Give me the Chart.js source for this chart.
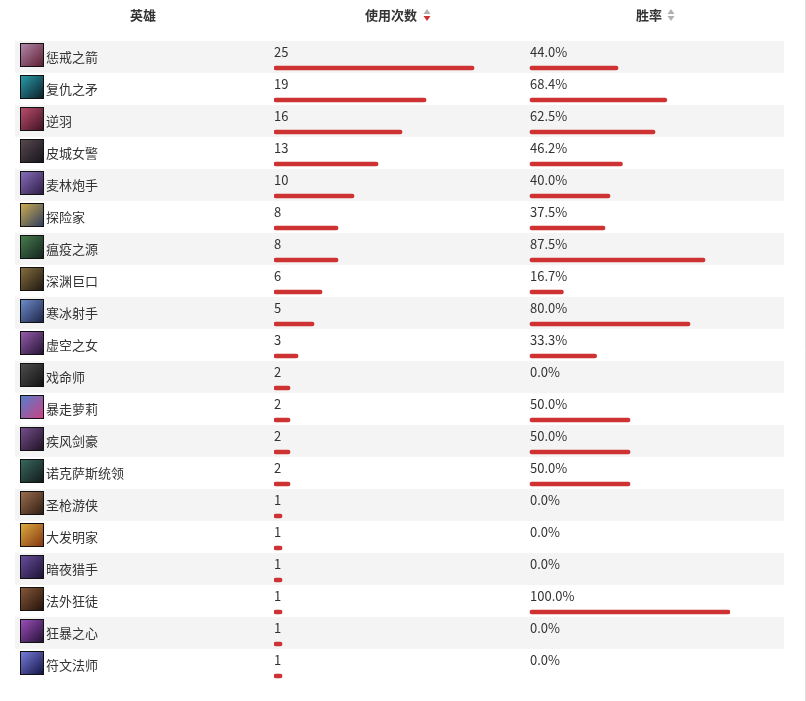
<!DOCTYPE html>
<html>
<head>
<meta charset="utf-8">
<script src="https://cdn.jsdelivr.net/npm/chart.js@4.4.1/dist/chart.umd.min.js"></script>
<style>
  html, body { margin: 0; padding: 0; background: #fff; }
  #wrap { position: relative; width: 806px; height: 701px; }
</style>
</head>
<body>
<div id="wrap"><canvas id="heroChart"></canvas></div>
<script>
// hero names, usage counts and win rates (%)
const heroes = ['惩戒之箭', '复仇之矛', '逆羽', '皮城女警', '麦林炮手', '探险家', '瘟疫之源', '深渊巨口', '寒冰射手', '虚空之女',
    '戏命师', '暴走萝莉', '疾风剑豪', '诺克萨斯统领', '圣枪游侠', '大发明家', '暗夜猎手', '法外狂徒', '狂暴之心', '符文法师'];
const usage = [25, 19, 16, 13, 10, 8, 8, 6, 5, 3, 2, 2, 2, 2, 1, 1, 1, 1, 1, 1];
const winRate = [44.0, 68.4, 62.5, 46.2, 40.0, 37.5, 87.5, 16.7, 80.0, 33.3, 0.0, 50.0, 50.0, 50.0, 0.0, 0.0, 0.0, 100.0, 0.0, 0.0];
const headers = ['英雄', '使用次数', '胜率'];

// rough portrait tints, just to stand in for the champion icons
const iconColors = [
    ['#b58bb0', '#5a1a2a'], ['#2aa0b0', '#0b1a22'], ['#c05070', '#3a1020'], ['#5a4a50', '#15121a'],
    ['#8a70c0', '#2a1a40'], ['#d0b050', '#2a3a60'], ['#4a8050', '#10201a'], ['#8a7040', '#1a1510'],
    ['#7090d0', '#1a2040'], ['#9a60b0', '#201030'], ['#505050', '#101010'], ['#5080d0', '#d04080'],
    ['#7a5090', '#1a1020'], ['#3a6a60', '#101818'], ['#a07050', '#2a1a10'], ['#e0b040', '#803010'],
    ['#6a50a0', '#1a1030'], ['#8a5a3a', '#201008'], ['#a050c0', '#201030'], ['#7a80e0', '#101040']
];

const RED = '#cf3232';
const TEXT = '#333';
const FONT = '"Noto Sans CJK SC", "Noto Sans", sans-serif';
const ROW_H = 32;
const BAR_OFFSET = 27; // bar centre measured from the top of its row

// zero values get no visible bar
const barColor = c => (c.raw === 0 ? 'rgba(0,0,0,0)' : RED);

function drawSortArrows(ctx, x, y, downActive) {
    ctx.fillStyle = '#b0b0b0';
    ctx.beginPath();
    ctx.moveTo(x - 3.5, y - 1);
    ctx.lineTo(x + 3.5, y - 1);
    ctx.lineTo(x, y - 6);
    ctx.fill();
    ctx.fillStyle = downActive ? RED : '#b0b0b0';
    ctx.beginPath();
    ctx.moveTo(x - 3.5, y + 1);
    ctx.lineTo(x + 3.5, y + 1);
    ctx.lineTo(x, y + 6);
    ctx.fill();
}

const tablePlugin = {
    id: 'tablePlugin',
    beforeDatasetsDraw(chart) {
        const ctx = chart.ctx;
        const y = chart.scales.y;
        ctx.save();
        heroes.forEach((h, i) => {
            if (i % 2 === 0) {
                const top = y.getPixelForValue(i) - BAR_OFFSET;
                ctx.fillStyle = '#f4f4f4';
                ctx.fillRect(15, top, 769, ROW_H);
            }
        });
        ctx.restore();
    },
    afterDraw(chart) {
        const ctx = chart.ctx;
        const y = chart.scales.y;
        const xu = chart.scales.xu;
        const xw = chart.scales.xw;
        ctx.save();

        // header
        ctx.font = 'bold 13px ' + FONT;
        ctx.fillStyle = TEXT;
        ctx.textAlign = 'center';
        ctx.textBaseline = 'middle';
        ctx.fillText(headers[0], 143, 15);
        ctx.fillText(headers[1], 391, 15);
        ctx.fillText(headers[2], 649, 15);
        drawSortArrows(ctx, 427, 15, true);
        drawSortArrows(ctx, 671, 15, false);

        // rows
        heroes.forEach((h, i) => {
            const top = y.getPixelForValue(i) - BAR_OFFSET;

            const g = ctx.createLinearGradient(20, top + 2, 44, top + 26);
            g.addColorStop(0, iconColors[i][0]);
            g.addColorStop(1, iconColors[i][1]);
            ctx.fillStyle = '#111';
            ctx.fillRect(20, top + 2, 24, 24);
            ctx.fillStyle = g;
            ctx.fillRect(21, top + 3, 22, 22);

            ctx.font = '13px ' + FONT;
            ctx.fillStyle = TEXT;
            ctx.textAlign = 'left';
            ctx.textBaseline = 'middle';
            ctx.fillText(h, 46, top + 16);
            ctx.fillText(String(usage[i]), xu.getPixelForValue(0), top + 11);
            ctx.fillText(winRate[i].toFixed(1) + '%', xw.getPixelForValue(0), top + 11);
        });

        // right border
        ctx.strokeStyle = '#dddddd';
        ctx.lineWidth = 1;
        ctx.beginPath();
        ctx.moveTo(805.5, 0);
        ctx.lineTo(805.5, 701);
        ctx.stroke();
        ctx.restore();
    }
};

const ctx = document.getElementById('heroChart').getContext('2d');
new Chart(ctx, {
    type: 'bar',
    data: {
        labels: heroes,
        datasets: [{
            label: '使用次数',
            data: usage,
            xAxisID: 'xu',
            backgroundColor: barColor,
            barThickness: 4,
            borderRadius: 2,
            borderSkipped: false,
            grouped: false
        }, {
            label: '胜率',
            data: winRate,
            xAxisID: 'xw',
            backgroundColor: barColor,
            barThickness: 4,
            borderRadius: 2,
            borderSkipped: false,
            grouped: false
        }]
    },
    options: {
        indexAxis: 'y',
        responsive: true,
        maintainAspectRatio: false,
        animation: false,
        layout: {
            padding: { left: 274, right: 76, top: 41 + BAR_OFFSET - ROW_H / 2, bottom: 701 - 681 - (BAR_OFFSET - ROW_H / 2) }
        },
        scales: {
            y: { display: false },
            // usage column: 0 at x=274, 8px per use
            xu: { display: false, min: 0, max: 57, grid: { display: false } },
            // win-rate column: 0 at x=530, 2px per percent
            xw: { display: false, min: -128, max: 100, grid: { display: false } }
        },
        plugins: {
            legend: { display: false },
            tooltip: { enabled: false }
        }
    },
    plugins: [tablePlugin]
});
</script>
</body>
</html>
